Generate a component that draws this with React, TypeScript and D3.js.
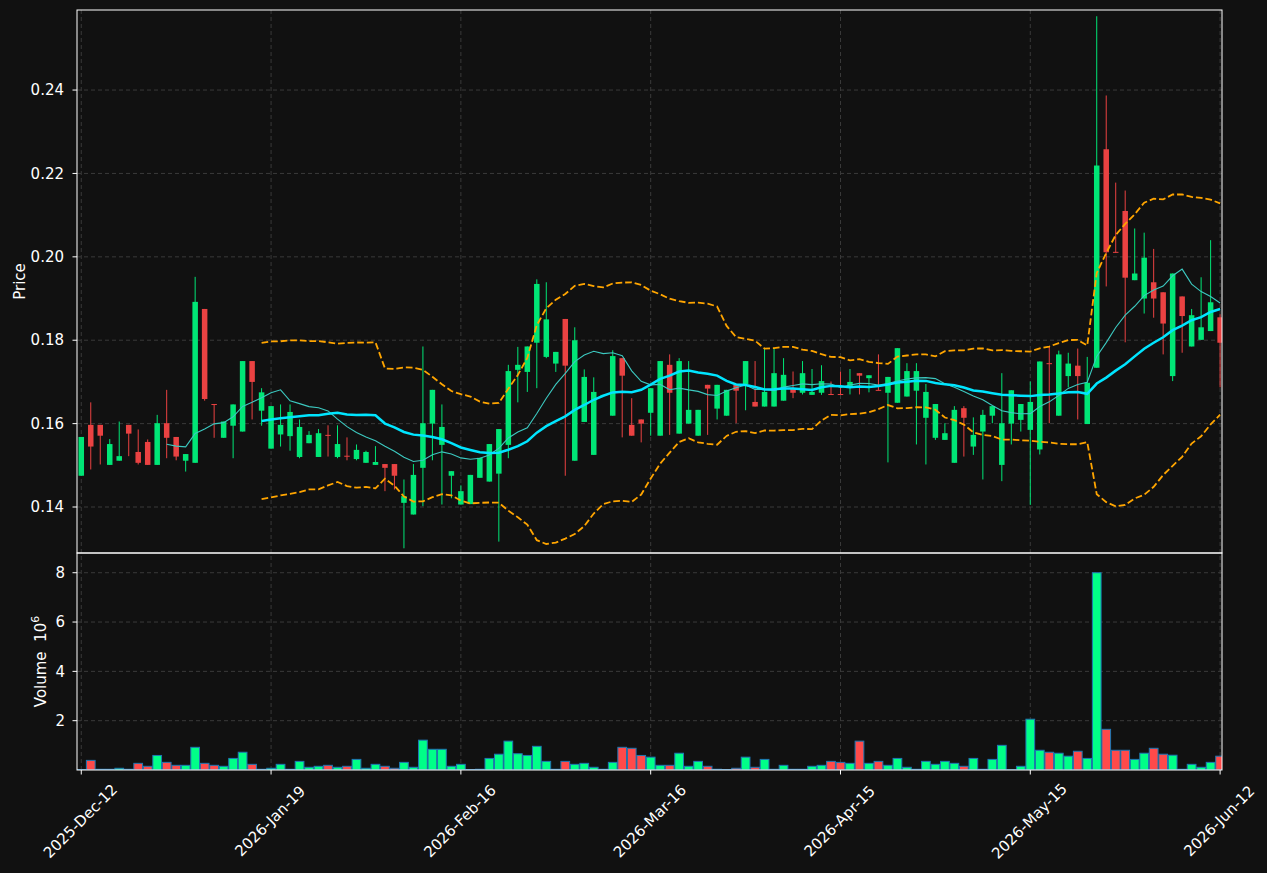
import React from 'react';
import * as d3 from 'd3';

// OHLC, one value per trading day (index 0..120)
const opens = [
  0.1475, 0.1597, 0.1597, 0.1501, 0.1511, 0.1597, 0.1532, 0.1556, 0.1501, 0.1601,
  0.1568, 0.1511, 0.1506, 0.1875, 0.1647, 0.1566, 0.1595, 0.1581, 0.1750, 0.1631,
  0.1540, 0.1574, 0.1570, 0.1520, 0.1553, 0.1520, 0.1573, 0.1520, 0.1523, 0.1515,
  0.1506, 0.1501, 0.1503, 0.1503, 0.1410, 0.1382, 0.1494, 0.1600, 0.1549, 0.1475,
  0.1406, 0.1407, 0.1470, 0.1461, 0.1480, 0.1549, 0.1729, 0.1724, 0.1794, 0.1760,
  0.1744, 0.1851, 0.1511, 0.1604, 0.1525, 0.1669, 0.1619, 0.1757, 0.1597, 0.1610,
  0.1626, 0.1571, 0.1741, 0.1576, 0.1600, 0.1571, 0.1693, 0.1636, 0.1619, 0.1693,
  0.1695, 0.1652, 0.1641, 0.1641, 0.1655, 0.1683, 0.1674, 0.1669, 0.1674, 0.1671,
  0.1671, 0.1688, 0.1721, 0.1709, 0.1681, 0.1674, 0.1650, 0.1665, 0.1679, 0.1614,
  0.1566, 0.1561, 0.1506, 0.1637, 0.1545, 0.1581, 0.1619, 0.1501, 0.1600, 0.1609,
  0.1585, 0.1538, 0.1745, 0.1619, 0.1714, 0.1739, 0.1599, 0.1734, 0.2258, 0.2012,
  0.2110, 0.1944, 0.1900, 0.1939, 0.1915, 0.1714, 0.1905, 0.1785, 0.1801, 0.1822,
  0.1855,
];
const highs = [
  0.1568, 0.1651, 0.1597, 0.1563, 0.1605, 0.1597, 0.1586, 0.1562, 0.1621, 0.1681,
  0.1568, 0.1527, 0.1952, 0.1875, 0.1647, 0.1605, 0.1646, 0.1750, 0.1750, 0.1685,
  0.1642, 0.1646, 0.1646, 0.1610, 0.1582, 0.1587, 0.1596, 0.1596, 0.1567, 0.1550,
  0.1535, 0.1546, 0.1503, 0.1503, 0.1466, 0.1503, 0.1785, 0.1681, 0.1646, 0.1486,
  0.1452, 0.1477, 0.1518, 0.1551, 0.1587, 0.1741, 0.1784, 0.1785, 0.1946, 0.1939,
  0.1772, 0.1851, 0.1831, 0.1730, 0.1711, 0.1669, 0.1776, 0.1757, 0.1661, 0.1610,
  0.1685, 0.1750, 0.1766, 0.1757, 0.1750, 0.1633, 0.1693, 0.1693, 0.1681, 0.1693,
  0.1750, 0.1750, 0.1781, 0.1781, 0.1757, 0.1725, 0.1750, 0.1731, 0.1740, 0.1701,
  0.1725, 0.1731, 0.1721, 0.1716, 0.1766, 0.1712, 0.1781, 0.1745, 0.1745, 0.1695,
  0.1647, 0.1601, 0.1642, 0.1642, 0.1615, 0.1633, 0.1642, 0.1721, 0.1680, 0.1647,
  0.1701, 0.1749, 0.1785, 0.1775, 0.1770, 0.1780, 0.1760, 0.2577, 0.2387, 0.2178,
  0.2159, 0.2068, 0.2058, 0.2019, 0.1915, 0.1960, 0.1905, 0.1875, 0.1951, 0.2040,
  0.1862,
];
const lows = [
  0.1475, 0.1490, 0.1502, 0.1501, 0.1511, 0.1522, 0.1502, 0.1501, 0.1501, 0.1517,
  0.1512, 0.1485, 0.1506, 0.1655, 0.1566, 0.1566, 0.1517, 0.1581, 0.1610, 0.1595,
  0.1540, 0.1545, 0.1535, 0.1517, 0.1553, 0.1520, 0.1521, 0.1517, 0.1512, 0.1512,
  0.1506, 0.1501, 0.1438, 0.1442, 0.1301, 0.1382, 0.1402, 0.1512, 0.1406, 0.1421,
  0.1406, 0.1407, 0.1470, 0.1461, 0.1317, 0.1517, 0.1651, 0.1676, 0.1685, 0.1757,
  0.1724, 0.1475, 0.1511, 0.1604, 0.1525, 0.1669, 0.1619, 0.1567, 0.1571, 0.1555,
  0.1571, 0.1571, 0.1573, 0.1576, 0.1600, 0.1571, 0.1573, 0.1610, 0.1619, 0.1601,
  0.1632, 0.1641, 0.1641, 0.1641, 0.1655, 0.1661, 0.1670, 0.1669, 0.1669, 0.1670,
  0.1670, 0.1670, 0.1670, 0.1675, 0.1680, 0.1507, 0.1650, 0.1665, 0.1550, 0.1502,
  0.1561, 0.1561, 0.1506, 0.1521, 0.1525, 0.1466, 0.1601, 0.1462, 0.1550, 0.1581,
  0.1405, 0.1526, 0.1601, 0.1619, 0.1687, 0.1610, 0.1599, 0.1734, 0.1929, 0.2010,
  0.1795, 0.1944, 0.1864, 0.1854, 0.1766, 0.1702, 0.1770, 0.1785, 0.1801, 0.1822,
  0.1687,
];
const closes = [
  0.1568, 0.1545, 0.1571, 0.1551, 0.1522, 0.1576, 0.1506, 0.1501, 0.1601, 0.1566,
  0.1521, 0.1527, 0.1892, 0.1659, 0.1645, 0.1605, 0.1646, 0.1750, 0.1700, 0.1675,
  0.1642, 0.1597, 0.1628, 0.1592, 0.1573, 0.1577, 0.1571, 0.1551, 0.1521, 0.1537,
  0.1532, 0.1508, 0.1494, 0.1475, 0.1426, 0.1477, 0.1601, 0.1681, 0.1592, 0.1486,
  0.1438, 0.1477, 0.1518, 0.1551, 0.1587, 0.1726, 0.1741, 0.1785, 0.1935, 0.1850,
  0.1772, 0.1739, 0.1800, 0.1712, 0.1676, 0.1669, 0.1762, 0.1715, 0.1571, 0.1600,
  0.1685, 0.1750, 0.1674, 0.1750, 0.1633, 0.1633, 0.1684, 0.1693, 0.1681, 0.1679,
  0.1750, 0.1641, 0.1676, 0.1721, 0.1717, 0.1674, 0.1721, 0.1676, 0.1702, 0.1670,
  0.1670, 0.1700, 0.1715, 0.1716, 0.1680, 0.1712, 0.1781, 0.1726, 0.1726, 0.1676,
  0.1647, 0.1577, 0.1633, 0.1614, 0.1573, 0.1621, 0.1642, 0.1601, 0.1680, 0.1647,
  0.1652, 0.1749, 0.1743, 0.1766, 0.1744, 0.1714, 0.1698, 0.2219, 0.2011, 0.2010,
  0.1950, 0.1960, 0.1998, 0.1900, 0.1840, 0.1960, 0.1858, 0.1860, 0.1831, 0.1891,
  0.1794,
];
// volume in millions
const volumes = [
  0.02, 0.39, 0.03, 0.03, 0.07, 0.03, 0.27, 0.15, 0.59, 0.31,
  0.19, 0.19, 0.92, 0.27, 0.19, 0.15, 0.47, 0.72, 0.23, 0.03,
  0.07, 0.23, 0.03, 0.35, 0.11, 0.15, 0.19, 0.11, 0.15, 0.43,
  0.07, 0.23, 0.15, 0.07, 0.31, 0.11, 1.21, 0.84, 0.84, 0.15,
  0.23, 0.02, 0.03, 0.47, 0.64, 1.17, 0.66, 0.59, 0.96, 0.35,
  0.03, 0.35, 0.23, 0.27, 0.11, 0.03, 0.31, 0.92, 0.88, 0.59,
  0.52, 0.19, 0.19, 0.68, 0.15, 0.35, 0.15, 0.03, 0.02, 0.07,
  0.52, 0.11, 0.43, 0.03, 0.19, 0.03, 0.03, 0.15, 0.19, 0.35,
  0.31, 0.27, 1.17, 0.27, 0.35, 0.19, 0.47, 0.11, 0.03, 0.35,
  0.23, 0.35, 0.27, 0.15, 0.47, 0.03, 0.43, 1.00, 0.01, 0.15,
  2.06, 0.80, 0.72, 0.68, 0.56, 0.76, 0.47, 8.00, 1.65, 0.80,
  0.80, 0.43, 0.68, 0.88, 0.64, 0.60, 0.03, 0.23, 0.11, 0.31,
  0.56,
];

const tickIdx = [0, 20, 40, 60, 80, 100, 120];
const tickLabels = ['2025-Dec-12', '2026-Jan-19', '2026-Feb-16', '2026-Mar-16', '2026-Apr-15', '2026-May-15', '2026-Jun-12'];
const priceTicks = [0.14, 0.16, 0.18, 0.2, 0.22, 0.24];
const volTicks = [2, 4, 6, 8];

const W = 1267, H = 873;
const L = 77, R = 1222, T = 10, MID = 553, B = 770;

const bg = '#111111';
const grid = '#3a3a3a';
const upC = '#00e676', downC = '#ea4242';
const volUp = '#00ff88', volDown = '#ff4a4a';
const font = 'DejaVu Sans, sans-serif';
const fs = 15;

// rolling mean / std of closes (indicators, as the original chart computes them)
const rolling = (n: number) => closes.map((_, i) => {
  if (i < n - 1) return null;
  const w = closes.slice(i - n + 1, i + 1);
  const m = d3.mean(w) as number;
  const sd = Math.sqrt(d3.mean(w, v => (v - m) * (v - m)) as number);
  return { i, m, sd };
});

const App = () => {
  const x = d3.scaleLinear().domain([-0.45, 120.2]).range([L, R]);
  const y = d3.scaleLinear().domain([0.12897, 0.2592]).range([MID, T]);
  const yv = d3.scaleLinear().domain([0, 8.8]).range([B, MID]);
  const step = x(1) - x(0);
  const bodyW = step * 0.58;
  const volW = step * 0.92;

  const ma10 = rolling(10).filter(d => d) as { i: number, m: number, sd: number }[];
  const ma20 = rolling(20).filter(d => d) as { i: number, m: number, sd: number }[];

  const line = d3.line<{ i: number, v: number }>().x(d => x(d.i)).y(d => y(d.v));
  const ma10Path = line(ma10.map(d => ({ i: d.i, v: d.m })));
  const ma20Path = line(ma20.map(d => ({ i: d.i, v: d.m })));
  const upperPath = line(ma20.map(d => ({ i: d.i, v: d.m + 2 * d.sd })));
  const lowerPath = line(ma20.map(d => ({ i: d.i, v: d.m - 2 * d.sd })));

  return (
    <svg width={W} height={H} style={{ position: 'absolute', left: 0, top: 0 }} fontFamily={font}>
      <defs>
        <clipPath id="pclip"><rect x={L} y={T} width={R - L} height={MID - T} /></clipPath>
        <clipPath id="vclip"><rect x={L} y={MID} width={R - L} height={B - MID} /></clipPath>
      </defs>
      <rect x={0} y={0} width={W} height={H} fill={bg} />

      {/* grid */}
      <g stroke={grid} strokeWidth={1} strokeDasharray="4,3">
        {tickIdx.map(t => <line key={'gx' + t} x1={x(t)} x2={x(t)} y1={T} y2={B} />)}
        {priceTicks.map(p => <line key={'gp' + p} x1={L} x2={R} y1={y(p)} y2={y(p)} />)}
        {volTicks.map(v => <line key={'gv' + v} x1={L} x2={R} y1={yv(v)} y2={yv(v)} />)}
      </g>

      {/* candles */}
      <g clipPath="url(#pclip)">
        {closes.map((c, i) => {
          const o = opens[i];
          const col = c >= o ? upC : downC;
          const top = y(Math.max(o, c));
          const h = Math.max(1, y(Math.min(o, c)) - top);
          return (
            <g key={'c' + i}>
              <line x1={x(i)} x2={x(i)} y1={y(highs[i])} y2={y(lows[i])} stroke={col} strokeWidth={1} />
              <rect x={x(i) - bodyW / 2} y={top} width={bodyW} height={h} fill={col} />
            </g>
          );
        })}
        <path d={ma10Path || ''} fill="none" stroke="#3cc9c0" strokeWidth={1.1} />
        <path d={ma20Path || ''} fill="none" stroke="#00e5ff" strokeWidth={2.5} />
        <path d={upperPath || ''} fill="none" stroke="#ffa500" strokeWidth={1.8} strokeDasharray="6.7,2.9" />
        <path d={lowerPath || ''} fill="none" stroke="#ffa500" strokeWidth={1.8} strokeDasharray="6.7,2.9" />
      </g>

      {/* volume */}
      <g clipPath="url(#vclip)">
        {volumes.map((v, i) => (
          <rect key={'v' + i} x={x(i) - volW / 2} y={yv(v)} width={volW} height={Math.max(0, B - yv(v))}
            fill={closes[i] >= opens[i] ? volUp : volDown} stroke="#1f77b4" strokeWidth={1} />
        ))}
      </g>

      {/* frames */}
      <g fill="none" stroke="#ffffff" strokeWidth={1}>
        <rect x={L} y={T} width={R - L} height={MID - T} />
        <rect x={L} y={MID} width={R - L} height={B - MID} />
      </g>

      {/* y axis, price and volume */}
      <g fill="#ffffff" fontSize={fs} textAnchor="end">
        {priceTicks.map(p => (
          <g key={'pt' + p}>
            <line x1={L - 4.5} x2={L} y1={y(p)} y2={y(p)} stroke="#ffffff" />
            <text x={L - 13} y={y(p)} dy="0.35em">{p.toFixed(2)}</text>
          </g>
        ))}
        {volTicks.map(v => (
          <g key={'vt' + v}>
            <line x1={L - 4.5} x2={L} y1={yv(v)} y2={yv(v)} stroke="#ffffff" />
            <text x={L - 12} y={yv(v)} dy="0.35em">{v}</text>
          </g>
        ))}
      </g>
      <text transform={`translate(25,${(T + MID) / 2}) rotate(-90)`} fill="#ffffff" fontSize={fs} textAnchor="middle">Price</text>
      <text transform={`translate(46,${(MID + B) / 2}) rotate(-90)`} fill="#ffffff" fontSize={fs} textAnchor="middle" xmlSpace="preserve">
        {'Volume  10'}<tspan fontSize={11} dy="-7">6</tspan>
      </text>

      {/* x axis */}
      <g fill="#ffffff" fontSize={fs}>
        {tickIdx.map((t, k) => (
          <g key={'xt' + t}>
            <line x1={x(t)} x2={x(t)} y1={B} y2={B + 4.5} stroke="#ffffff" />
            <text transform={`translate(${x(t) - 1},${B + 51}) rotate(-45)`} textAnchor="middle" dy="0.35em">{tickLabels[k]}</text>
          </g>
        ))}
      </g>
    </svg>
  );
};

export default App;
